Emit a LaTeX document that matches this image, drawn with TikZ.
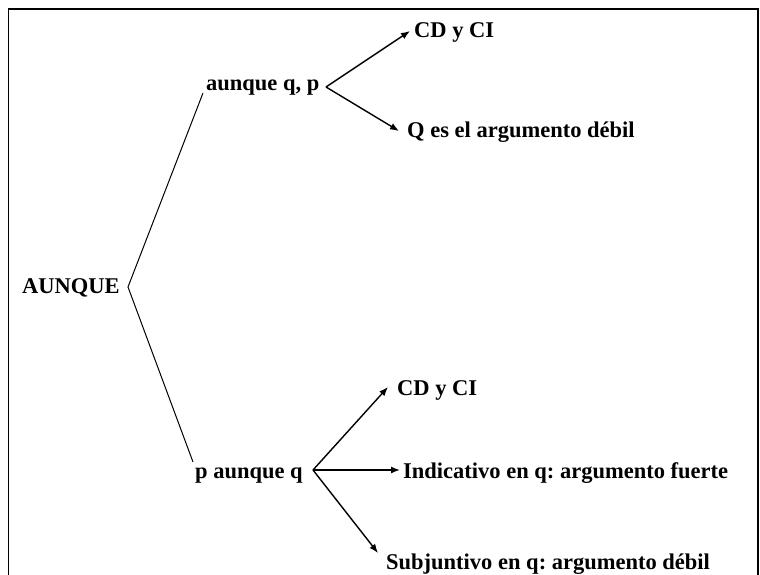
\documentclass[tikz,border=0pt]{standalone}
\usepackage{fontspec}
\setmainfont{Liberation Serif}
\usetikzlibrary{arrows.meta}
\frenchspacing
\begin{document}
\begin{tikzpicture}[x=1pt,y=-1pt,
  lbl/.style={anchor=base west,inner sep=0pt,font=\fontsize{22.5}{27}\selectfont\bfseries},
  brace/.style={line width=1pt},
  arr/.style={line width=1.4pt,-{Latex[length=9pt,width=7pt]}},
  frame/.style={line width=1.3pt}]
\useasboundingbox (0,0) rectangle (760,575);
% frame (open at bottom)
\coordinate (f1) at (8.5,575);
\coordinate (f2) at (8.5,9);
\coordinate (f3) at (758,9);
\coordinate (f4) at (758,575);
\draw[frame] (f1) -- (f2) -- (f3) -- (f4);
% root
\node[lbl] (aunque) at (22,293) {AUNQUE};
\coordinate (v0) at (128,287);
\coordinate (up) at (203,93);
\coordinate (dn) at (193,462);
\draw[brace] (up) -- (v0) -- (dn);
% upper branch
\node[lbl] (aqp) at (206,91) {aunque q, p};
\coordinate (v1) at (326,87);
\node[lbl] (cd1) at (414,38) {CD y CI};
\node[lbl] (qes) at (407,138) {Q es el argumento débil};
\coordinate (t11) at (410,31);
\coordinate (t12) at (399,131);
\draw[arr] (v1) -- (t11);
\draw[arr] (v1) -- (t12);
% lower branch
\node[lbl] (paq) at (195,478) {p aunque q};
\coordinate (v2) at (313,470);
\node[lbl] (cd2) at (397,395) {CD y CI};
\node[lbl] (ind) at (403,478) {Indicativo en q: argumento fuerte};
\node[lbl] (sub) at (386,569) {Subjuntivo en q: argumento débil};
\coordinate (t21) at (388,387);
\coordinate (t22) at (400,470);
\coordinate (t23) at (378,553);
\draw[arr] (v2) -- (t21);
\draw[arr] (v2) -- (t22);
\draw[arr] (v2) -- (t23);
\end{tikzpicture}
\end{document}
